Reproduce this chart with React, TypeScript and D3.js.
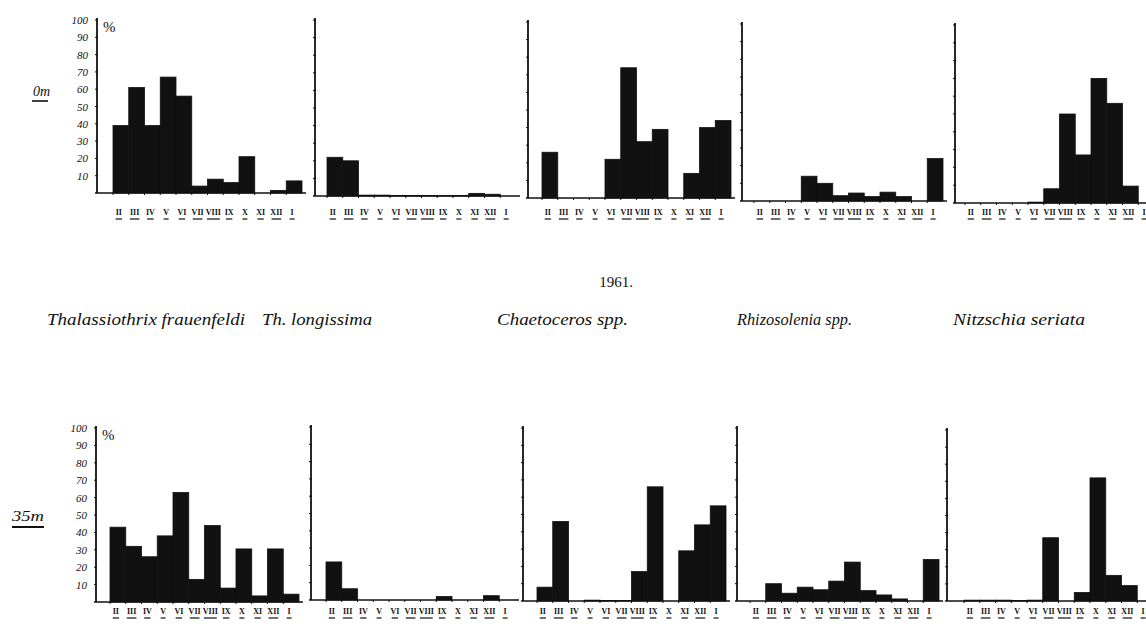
import * as d3 from 'd3'

// months on the x axis (Feb 1961 .. Jan 1962)
const months = ['II', 'III', 'IV', 'V', 'VI', 'VII', 'VIII', 'IX', 'X', 'XI', 'XII', 'I']
const yTicks = [10, 20, 30, 40, 50, 60, 70, 80, 90, 100]

// percentages, 0 m
const thalassiothrix0 = [39, 61, 39, 67, 56, 4, 8, 6, 21, 0, 1.5, 7]
const longissima0 = [22, 20, 0.5, 0.5, 0.3, 0.3, 0.3, 0.2, 0.3, 1.5, 1, 0]
const chaetoceros0 = [26, 0, 0, 0, 22, 74, 32, 39, 0, 14, 40, 44]
const rhizosolenia0 = [0, 0, 0, 14, 10, 3, 4.5, 2.5, 5, 2.5, 0, 24]
const nitzschia0 = [0, 0, 0, 0, 0.5, 8, 50, 27, 70, 56, 9.5, 0]

// 35 m
const thalassiothrix35 = [43, 32, 26, 38, 63, 13, 44, 8, 30.5, 3.5, 30.5, 4.5]
const longissima35 = [22, 6.5, 0, 0, 0, 0, 0, 2, 0, 0, 2.5, 0]
const chaetoceros35 = [8, 46, 0, 0.5, 0.3, 0.3, 17, 66, 0, 29, 44, 55]
const rhizosolenia35 = [0, 10, 4.5, 8, 6.5, 11.5, 22.5, 6, 3.5, 1.2, 0, 24]
const nitzschia35 = [0.5, 0.5, 0.5, 0.3, 0.5, 37, 0, 5, 72, 15, 9, 0]

const species = ['Thalassiothrix frauenfeldi', 'Th. longissima', 'Chaetoceros spp.', 'Rhizosolenia  spp.', 'Nitzschia seriata']
const depths = ['0 m', '35 m']
const year = '1961.'

// layout of the hand-drawn panels (they sag a bit left to right)
const rows = [
  { axisX: [97, 315, 528, 742, 955], barX: [113, 327, 542, 754, 965], y0: [193, 196, 198, 201, 203], y100: [20, 20, 22, 24, 25], labelY: 215, series: [thalassiothrix0, longissima0, chaetoceros0, rhizosolenia0, nitzschia0] },
  { axisX: [96, 311, 523, 737, 947], barX: [110, 326, 537, 750, 964], y0: [602, 600, 601, 601, 601], y100: [428, 427, 428, 428, 430], labelY: 614, series: [thalassiothrix35, longissima35, chaetoceros35, rhizosolenia35, nitzschia35] },
]
const BAR_W = 15.75
const ink = '#111'
const hand = '"Liberation Serif", "DejaVu Serif", serif'

function Panel({ values, axisX, barX, y0, y100, labelY, first }) {
  const x = d3.scaleBand().domain(months).range([barX, barX + BAR_W * months.length]).padding(0)
  const y = d3.scaleLinear().domain([0, 100]).range([y0, y100])
  const right = barX + BAR_W * months.length + 4
  return (
    <g>
      {/* y axis */}
      <line x1={axisX} x2={axisX} y1={y0} y2={y(100) - 2} stroke={ink} strokeWidth={1.8} />
      {yTicks.map(t => (
        <line key={t} x1={axisX - 2} x2={axisX + 1} y1={y(t)} y2={y(t)} stroke={ink} strokeWidth={1} />
      ))}
      {/* baseline */}
      <line x1={axisX - 2} x2={right} y1={y0} y2={y0} stroke={ink} strokeWidth={1.6} />
      {months.map(m => (
        <line key={m} x1={x(m)} x2={x(m)} y1={y0} y2={y0 + 2} stroke={ink} strokeWidth={1} />
      ))}
      {/* bars, touching each other */}
      {values.map((v, i) => (
        <rect key={i} x={x(months[i])} y={y(v)} width={x.bandwidth()} height={Math.max(0, y0 - y(v))}
          fill={ink} stroke={v > 0 ? ink : 'none'} strokeWidth={0.8} />
      ))}
      {/* month labels, underlined */}
      {months.map(m => {
        const cx = x(m) + x.bandwidth() / 2 - 2
        const w = Math.max(5, m.length * 3.2)
        return (
          <g key={m}>
            <text x={cx} y={labelY} textAnchor="middle" fontSize={8} fontWeight="bold" fontFamily={hand} fill={ink}>{m}</text>
            <line x1={cx - w / 2} x2={cx + w / 2} y1={labelY + 4} y2={labelY + 4} stroke={ink} strokeWidth={1.2} />
          </g>
        )
      })}
      {first && yTicks.map(t => (
        <text key={t} x={axisX - 9} y={y(t) + 4} textAnchor="end" fontSize={11} fontStyle="italic" fontFamily={hand} fill={ink}>{t}</text>
      ))}
      {first && (
        <text x={axisX + 6} y={y(100) + 12} fontSize={15} fontFamily={hand} fill={ink}>%</text>
      )}
    </g>
  )
}

export default function App() {
  const nameX = [47, 262, 497, 737, 953]
  const nameW = [198, 110, 131, 115, 132]
  return (
    <div style={{ position: 'absolute', left: 0, top: 0, background: '#fff' }}>
      <svg width={1146} height={624} style={{ display: 'block' }}>
        <rect width={1146} height={624} fill="#fff" />
        {rows.map((r, ri) => (
          <g key={ri}>
            {r.series.map((vals, pi) => (
              <Panel key={pi} values={vals} axisX={r.axisX[pi]} barX={r.barX[pi]} y0={r.y0[pi]} y100={r.y100[pi]} labelY={r.labelY} first={pi === 0} />
            ))}
          </g>
        ))}
        {/* depth labels */}
        <text x={33} y={96} fontSize={14} fontStyle="italic" fontFamily={hand} fill={ink}>{depths[0].replace(' ', '')}</text>
        <line x1={32} x2={48} y1={101} y2={101} stroke={ink} strokeWidth={1.6} />
        <text x={12} y={521} fontSize={14} fontStyle="italic" fontFamily={hand} fill={ink} textLength={32} lengthAdjust="spacingAndGlyphs">{depths[1].replace(' ', '')}</text>
        <line x1={12} x2={44} y1={527} y2={527} stroke={ink} strokeWidth={2} />
        {/* year and species names */}
        <text x={616} y={287} textAnchor="middle" fontSize={15} fontFamily={hand} fill={ink}>{year}</text>
        {species.map((s, i) => (
          <text key={s} x={nameX[i]} y={325} fontSize={16} fontStyle="italic" fontFamily={hand} fill={ink}
            textLength={nameW[i]} lengthAdjust="spacingAndGlyphs">{s}</text>
        ))}
      </svg>
    </div>
  )
}
